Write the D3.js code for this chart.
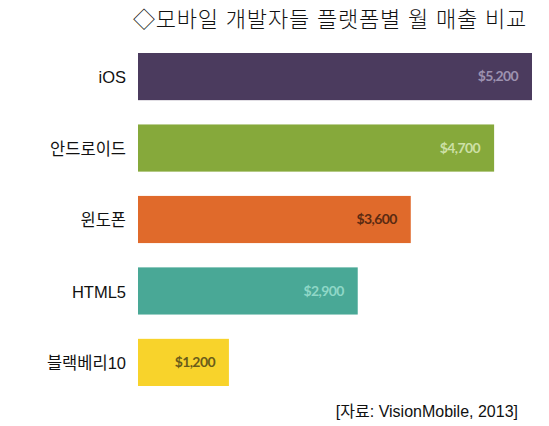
<!DOCTYPE html>
<html>
<head>
<meta charset="utf-8">
<script src="https://cdn.jsdelivr.net/npm/d3@7"></script>
<style>
  body { margin: 0; background: #fff; }
  svg { display: block; }
</style>
</head>
<body>
<svg id="chart" width="549" height="426"></svg>
<script>
// Chart data
const platforms = ["iOS", "안드로이드", "윈도폰", "HTML5", "블랙베리10"];
const revenue = [5200, 4700, 3600, 2900, 1200];
const barColors = ["#4b3b5e", "#86a93b", "#e06a2b", "#49a896", "#f8d32b"];
const valueColors = ["#9d92b0", "#cde0a6", "#5a2a12", "#8fd7c7", "#6a5c1a"];
const title = "◇모바일 개발자들 플랫폼별 월 매출 비교";
const source = "[자료: VisionMobile, 2013]";

const svg = d3.select("#chart");

const rows = platforms.map((p, i) => ({ name: p, value: revenue[i], color: barColors[i], text: valueColors[i] }));

// Scales
const x = d3.scaleLinear().domain([0, 5200]).range([138, 532]);
const y = d3.scaleBand().domain(platforms).range([53, 386]).paddingInner(0.34).paddingOuter(0);

const fmt = d3.format("$,");

// Title
svg.append("text")
    .attr("x", 330)
    .attr("y", 27)
    .attr("text-anchor", "middle")
    .attr("font-family", "'Liberation Sans', 'Noto Sans CJK KR', sans-serif")
    .attr("font-size", 22)
    .attr("font-weight", 300)
    .attr("letter-spacing", 0.8)
    .attr("fill", "#111")
    .text(title);

// Bars
const barG = svg.append("g").attr("class", "bars");
barG.selectAll("rect.bar")
    .data(rows)
    .join("rect")
    .attr("class", "bar")
    .attr("x", x(0))
    .attr("y", d => y(d.name))
    .attr("width", d => x(d.value) - x(0))
    .attr("height", y.bandwidth())
    .attr("fill", d => d.color);

// Values inside the bars
barG.selectAll("text.value")
    .data(rows)
    .join("text")
    .attr("class", "value")
    .attr("x", d => x(d.value) - 14)
    .attr("y", d => y(d.name) + y.bandwidth() / 2)
    .attr("dy", "0.35em")
    .attr("text-anchor", "end")
    .attr("font-family", "Lato, 'Open Sans', sans-serif")
    .attr("font-size", 14)
    .attr("font-weight", 700)
    .attr("letter-spacing", -0.6)
    .attr("fill", d => d.text)
    .text(d => fmt(d.value));

// Category labels
const axis = d3.axisLeft(y).tickSize(0).tickPadding(10);
const axisG = svg.append("g")
    .attr("transform", `translate(${x(0) - 2},0)`)
    .call(axis);
axisG.select(".domain").remove();
axisG.selectAll("text")
    .attr("font-family", "'Liberation Sans', 'Noto Sans CJK KR', sans-serif")
    .attr("font-size", 16.5)
    .attr("fill", "#111")
    .attr("dy", "0.4em");

// Source note
svg.append("text")
    .attr("x", 518)
    .attr("y", 417)
    .attr("text-anchor", "end")
    .attr("font-family", "'Liberation Sans', 'Noto Sans CJK KR', sans-serif")
    .attr("font-size", 16)
    .attr("fill", "#111")
    .text(source);
</script>
</body>
</html>
